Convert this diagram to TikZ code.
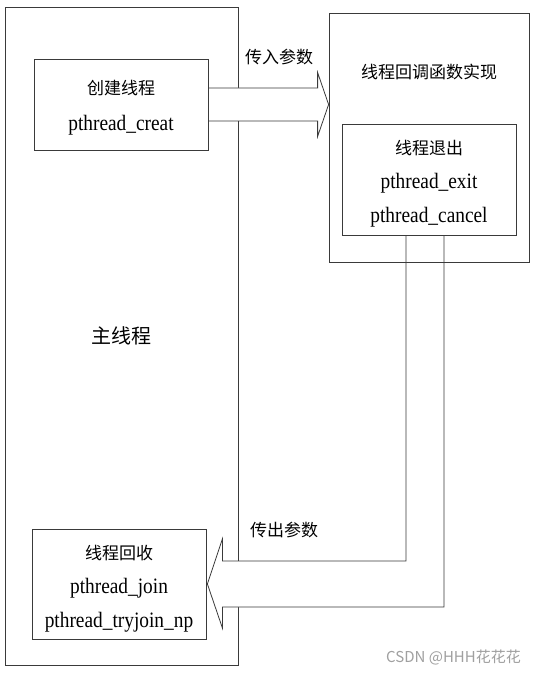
\documentclass[tikz,border=0pt]{standalone}
\usepackage{fontspec}
\setmainfont{Liberation Serif}[FakeStretch=0.88]
\newfontfamily\cjk{Noto Sans CJK SC}
\usetikzlibrary{calc}
\definecolor{linec}{HTML}{3A3A3A}
\definecolor{wmc}{HTML}{A0A0A0}
\pgfdeclarelayer{background}
\pgfdeclarelayer{mid}
\pgfsetlayers{background,mid,main}
\begin{document}
\begin{tikzpicture}[x=1pt,y=-1pt,
  box/.style={draw=linec, line width=0.8pt, inner sep=0pt},
  txt/.style={inner sep=0pt, align=center, font=\fontsize{22}{34}\selectfont},
  zh/.style={inner sep=0pt, font=\cjk\fontsize{17}{34}\selectfont},
  bigarrow/.style={draw=linec, line width=0.8pt, fill=white, line join=miter},
  wm/.style={inner sep=0pt, text=wmc, font=\cjk\fontsize{15}{18}\selectfont}]
\useasboundingbox (0,0) rectangle (536,674);

% main thread box
\begin{pgfonlayer}{background}
\fill[white] (0,0) rectangle (536,674);
\node[box, minimum width=233, minimum height=658, font=\cjk\fontsize{20}{24}\selectfont] (main) at (121.5,336) {主线程};
\end{pgfonlayer}

% create thread
\node[box, fill=white, minimum width=174, minimum height=91] (create) at (121,104.5) {};
\node[txt, font=\fontsize{22}{36}\selectfont] (createtext) at ($(create.center)+(0,3)$)
  {{\cjk\fontsize{17}{36}\selectfont 创建线程}\\pthread\_creat};

% join thread
\node[box, fill=white, minimum width=174, minimum height=110] (join) at (119,584) {};
\node[txt] (jointext) at ($(join.center)+(0,4.5)$)
  {{\cjk\fontsize{17}{34}\selectfont 线程回收}\\pthread\_join\\pthread\_tryjoin\_np};

% callback box
\node[box, minimum width=200, minimum height=249] (cb) at (429,137.5) {};
\node[zh] (cbtitle) at (429,72) {线程回调函数实现};

% exit box
\node[box, fill=white, minimum width=174, minimum height=111] (exit) at (429,179.5) {};
\node[txt] (exittext) at ($(exit.center)+(0,4.5)$)
  {{\cjk\fontsize{17}{34}\selectfont 线程退出}\\pthread\_exit\\pthread\_cancel};

% labels
\node[zh] (inlabel) at (279,57) {传入参数};
\node[zh] (outlabel) at (284,530) {传出参数};

% watermark
\node[wm, anchor=east] (wmark) at (521,657) {CSDN @HHH花花花};

% arrows
\begin{pgfonlayer}{mid}
\coordinate (tipA) at (cb.west |- create.east);
\draw[bigarrow] ($(create.east)+(0,-16.5)$) -- ($(tipA)+(-11,-16.5)$)
  -- ($(tipA)+(-11,-32)$) -- (tipA) -- ($(tipA)+(-11,32)$)
  -- ($(tipA)+(-11,16.5)$) -- ($(create.east)+(0,16.5)$);

\coordinate (outA) at ($(exit.south)+(-23,0)$);
\coordinate (outB) at ($(exit.south)+(15,0)$);
\coordinate (hb1) at ($(join.east)+(16,-23)$);
\coordinate (hb2) at ($(join.east)+(16,23)$);
\coordinate (tipB) at ($(join.east)+(1,0)$);
\draw[bigarrow] (outA) -- (outA |- hb1) -- (hb1) -- ($(join.east)+(16,-45)$)
  -- (tipB) -- ($(join.east)+(16,44)$) -- (hb2) -- (outB |- hb2) -- (outB);
\end{pgfonlayer}
\end{tikzpicture}
\end{document}
